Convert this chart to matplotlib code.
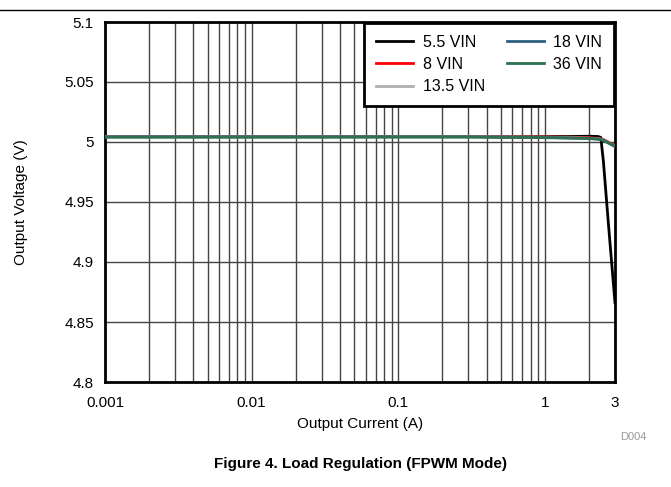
import matplotlib.pyplot as plt
from matplotlib.lines import Line2D

plt.rcParams['font.family'] = ['Liberation Sans', 'DejaVu Sans']

# load current (A)
current = [0.001, 0.003, 0.01, 0.03, 0.1, 0.3, 1.0, 1.5, 2.0, 2.3, 2.4, 2.5, 2.7, 3.0]
labels = ["5.5 VIN", "8 VIN", "13.5 VIN", "18 VIN", "36 VIN"]
colors = ["#000000", "#ff0000", "#b0b0b0", "#2f5f7f", "#2e7050"]

# output voltage (V) per input voltage
v_5p5 = [5.0045, 5.0045, 5.0045, 5.0045, 5.0045, 5.0045, 5.0045, 5.0046, 5.0048, 5.0046, 5.0038, 4.984, 4.933, 4.866]
v_8 = [5.0045, 5.0045, 5.0045, 5.0045, 5.0045, 5.0045, 5.0042, 5.0040, 5.0036, 5.0031, 5.0027, 5.002, 5.000, 4.997]
v_13p5 = [5.0044, 5.0044, 5.0044, 5.0044, 5.0044, 5.0044, 5.0040, 5.0036, 5.0032, 5.0027, 5.0023, 5.0018, 4.9995, 4.9965]
v_18 = [5.0043, 5.0043, 5.0043, 5.0043, 5.0043, 5.0043, 5.0038, 5.0034, 5.0030, 5.0025, 5.0021, 5.0016, 4.9993, 4.9962]
v_36 = [5.0040, 5.0040, 5.0040, 5.0040, 5.0041, 5.0041, 5.0036, 5.0032, 5.0028, 5.0023, 5.0019, 5.0015, 4.9992, 4.9964]
series = [v_5p5, v_8, v_13p5, v_18, v_36]

xticks = [0.001, 0.01, 0.1, 1, 3]
xtick_labels = ["0.001", "0.01", "0.1", "1", "3"]
yticks = [4.8, 4.85, 4.9, 4.95, 5.0, 5.05, 5.1]
ytick_labels = ["4.8", "4.85", "4.9", "4.95", "5", "5.05", "5.1"]

fig = plt.figure(figsize=(6.71, 4.87), dpi=100)
ax = fig.add_axes([105 / 671, 1 - 382 / 487, 510 / 671, 360 / 487])

# black one underneath, the rest stacked on top
ax.plot(current, v_5p5, color=colors[0], lw=2, label=labels[0], zorder=2)
for v, c, lab in zip(series[1:], colors[1:], labels[1:]):
    ax.plot(current, v, color=c, lw=2, label=lab, zorder=3)

ax.set_xscale("log")
ax.set_xlim(0.001, 3)
ax.set_ylim(4.8, 5.1)
ax.set_xticks(xticks)
ax.set_xticklabels(xtick_labels)
ax.set_xticks([], minor=True)
ax.set_yticks(yticks)
ax.set_yticklabels(ytick_labels)
ax.tick_params(axis="x", length=0, labelsize=11, pad=10)
ax.tick_params(axis="y", length=0, labelsize=11, pad=8)

# grid lines
grid_x = [m * 10 ** e for e in (-3, -2, -1, 0) for m in range(1, 10) if m * 10 ** e < 3]
for gx in grid_x[1:]:
    ax.axvline(gx, color="#444444", lw=1, zorder=1)
for gy in yticks[1:-1]:
    ax.axhline(gy, color="#444444", lw=1, zorder=1)

for s in ax.spines.values():
    s.set_linewidth(2)

ax.set_xlabel("Output Current (A)", fontsize=11, labelpad=5)
ax.set_ylabel("Output Voltage (V)", fontsize=11, labelpad=26)

leg = ax.legend(ncol=2, loc="upper right", fontsize=11.5, frameon=True, fancybox=False,
                framealpha=1, edgecolor="black", borderpad=0.75, handlelength=2.3,
                handletextpad=0.6, labelspacing=0.45, columnspacing=1.4, borderaxespad=0.05)
leg.get_frame().set_linewidth(2)
leg.set_zorder(5)

fig.add_artist(Line2D([0, 1], [1 - 10 / 487, 1 - 10 / 487], color="black", lw=1))
fig.text(633 / 671, 1 - 437 / 487, "D004", color="#999999", fontsize=8, ha="center", va="center")
fig.text(360 / 671, 1 - 464 / 487, "Figure 4. Load Regulation (FPWM Mode)",
         fontsize=11, fontweight="bold", ha="center", va="center")

fig.savefig("out.png", dpi=100)
